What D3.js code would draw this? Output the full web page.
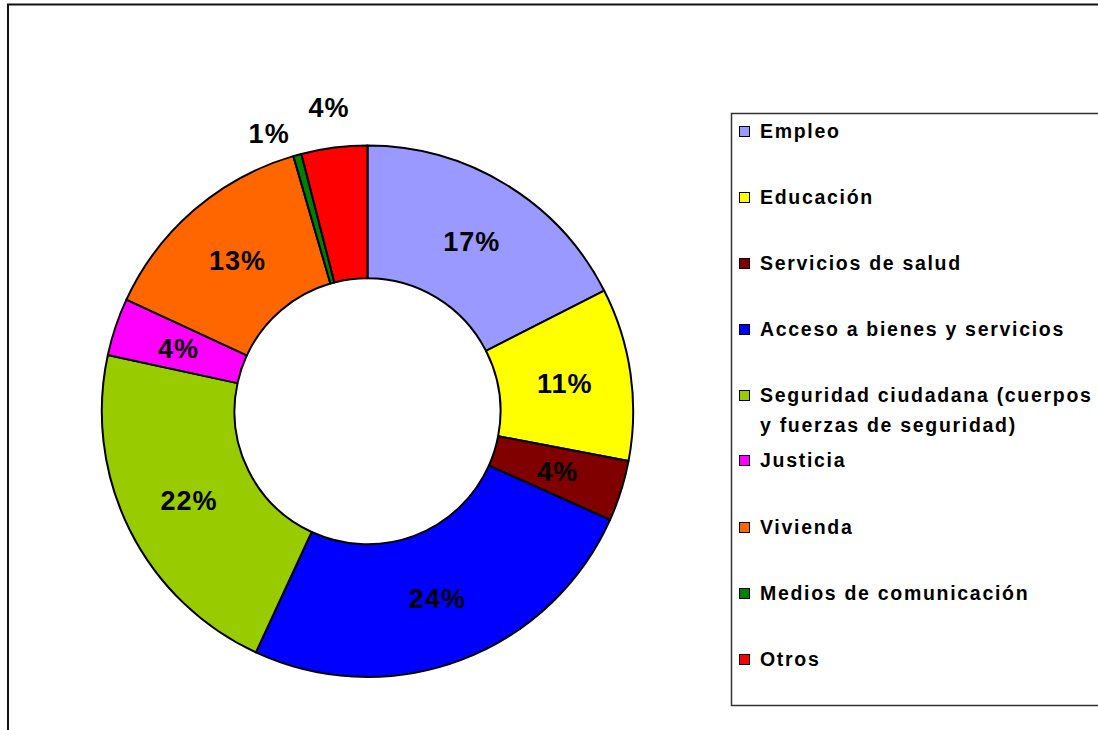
<!DOCTYPE html>
<html>
<head>
<meta charset="utf-8">
<script src="https://cdn.jsdelivr.net/npm/d3@7"></script>
<style>
  body { margin: 0; background: #fff; }
  text { font-family: "Liberation Sans", Arial, sans-serif; font-weight: bold; }
</style>
</head>
<body>
<svg id="chart" width="1098" height="730"></svg>
<script>
// data (slice sizes in percent of the ring)
const categories = ["Empleo", "Educación", "Servicios de salud", "Acceso a bienes y servicios",
  "Seguridad ciudadana (cuerpos|y fuerzas de seguridad)", "Justicia", "Vivienda",
  "Medios de comunicación", "Otros"];
const values = [17.5, 10.5, 3.7, 25.2, 21.5, 3.5, 13.6, 0.5, 4.0];
const labels = ["17%", "11%", "4%", "24%", "22%", "4%", "13%", "1%", "4%"];
const colors = ["#9999FF", "#FFFF00", "#800000", "#0000FF", "#99CC00", "#FF00FF", "#FF6600", "#008000", "#FF0000"];
// labels that sit outside the ring (radius factor, angle nudge)
const outside = { 7: [1.11, -0.073], 8: [1.155, 0] };

const svg = d3.select("#chart");
const cx = 367.5, cy = 411.3, R = 265.7, r0 = 133;

// outer frame
svg.append("rect")
  .attr("x", 8).attr("y", 4.5)
  .attr("width", 1200).attr("height", 800)
  .attr("fill", "none").attr("stroke", "#111").attr("stroke-width", 2);

const pie = d3.pie().sort(null).value(d => d);
const arcs = pie(values);
const arc = d3.arc().innerRadius(r0).outerRadius(R);
const mid = d3.arc().innerRadius((R + r0) / 2).outerRadius((R + r0) / 2);

const g = svg.append("g").attr("transform", `translate(${cx},${cy})`);

g.selectAll("path.slice")
  .data(arcs)
  .join("path")
  .classed("slice", true)
  .attr("d", arc)
  .attr("fill", (d, i) => colors[i])
  .attr("stroke", "#000")
  .attr("stroke-width", 2)
  .attr("stroke-linejoin", "round");

g.selectAll("text.pct")
  .data(arcs)
  .join("text")
  .classed("pct", true)
  .attr("transform", (d, i) => {
    let p;
    if (outside[i]) {
      const [k, da] = outside[i];
      const a = (d.startAngle + d.endAngle) / 2 + da;
      p = d3.arc().innerRadius(R * k).outerRadius(R * k).startAngle(a).endAngle(a).centroid();
    } else {
      p = mid.centroid(d);
    }
    return `translate(${p[0]},${p[1]})`;
  })
  .attr("text-anchor", "middle")
  .attr("dy", "0.36em")
  .attr("font-size", 27)
  .attr("letter-spacing", 1)
  .attr("fill", "#000")
  .text((d, i) => labels[i]);

// legend
const lg = svg.append("g");
lg.append("rect")
  .attr("x", 731.5).attr("y", 113.5)
  .attr("width", 400).attr("height", 592)
  .attr("fill", "#fff").attr("stroke", "#333").attr("stroke-width", 1.5);

const rowY = d3.scalePoint().domain(d3.range(categories.length)).range([131, 659]);

const item = lg.selectAll("g.item")
  .data(categories)
  .join("g")
  .classed("item", true)
  .attr("transform", (d, i) => `translate(0,${i === 5 ? rowY(i) - 1 : rowY(i)})`);

item.append("rect")
  .attr("x", 739.5).attr("y", -4.5)
  .attr("width", 10).attr("height", 10)
  .attr("fill", (d, i) => colors[i])
  .attr("stroke", "#000").attr("stroke-width", 1);

item.append("text")
  .attr("x", 760)
  .attr("font-size", 19.5)
  .attr("letter-spacing", 1.7)
  .attr("fill", "#000")
  .each(function(d) {
    const parts = d.split("|");
    const t = d3.select(this);
    parts.forEach((p, j) => {
      t.append("tspan").attr("x", 760).attr("dy", j === 0 ? "0.36em" : "30").text(p);
    });
  });
</script>
</body>
</html>
